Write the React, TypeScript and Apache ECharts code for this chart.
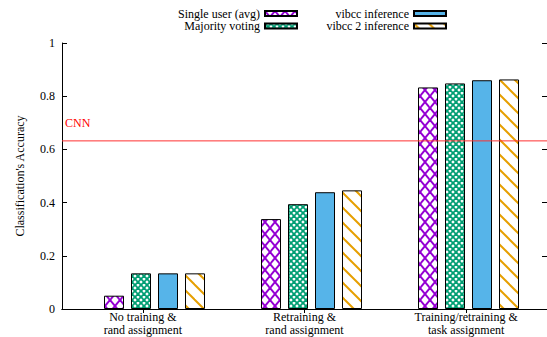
import React, { useEffect, useRef } from 'react';
import * as echarts from 'echarts';

const categories = [
  'No training &\nrand assignment',
  'Retraining &\nrand assignment',
  'Training/retraining &\ntask assignment',
];
const seriesNames = ['Single user (avg)', 'Majority voting', 'vibcc inference', 'vibcc 2 inference'];
const singleUser = [0.05, 0.338, 0.833];
const majorityVoting = [0.134, 0.394, 0.848];
const vibccInference = [0.134, 0.439, 0.86];
const vibcc2Inference = [0.134, 0.446, 0.863];
const cnnAccuracy = 0.632;
const cnnLabel = 'CNN';
const yAxisName = "Classification's Accuracy";

const FONT = 'Liberation Serif, Times New Roman, serif';
const RED = '#ff3030';

function hatch(w: number, h: number, color: string, lw: number, lines: number[][], bg = '#ffffff') {
  const c = document.createElement('canvas');
  c.width = w;
  c.height = h;
  const ctx = c.getContext('2d')!;
  ctx.fillStyle = bg;
  ctx.fillRect(0, 0, w, h);
  ctx.strokeStyle = color;
  ctx.lineWidth = lw;
  lines.forEach(([x1, y1, x2, y2]) => {
    ctx.beginPath();
    ctx.moveTo(x1, y1);
    ctx.lineTo(x2, y2);
    ctx.stroke();
  });
  return { image: c, repeat: 'repeat', imageWidth: w, imageHeight: h } as any;
}

export default function App() {
  const ref = useRef<HTMLDivElement>(null);
  useEffect(() => {
    if (!ref.current) return;
    const chart = echarts.init(ref.current, undefined, { renderer: 'svg' });

    const purple = hatch(10, 12, '#9400d3', 2, [[0, 0, 10, 12], [10, 0, 0, 12]]);
    const teal = hatch(6, 6, '#009e73', 1.8, [[0, 0, 6, 6], [6, 0, 0, 6]]);
    const blue = '#56b4e9';
    const orange = hatch(15, 15, '#e69f00', 2, [[-2, -2, 17, 17], [-2, 13, 2, 17], [13, -2, 17, 2]]);
    const fills = [purple, teal, blue, orange];
    const values = [singleUser, majorityVoting, vibccInference, vibcc2Inference];

    const axisLine = { show: true, lineStyle: { color: '#000', width: 1 } };

    chart.setOption({
      animation: false,
      backgroundColor: '#ffffff',
      textStyle: { fontFamily: FONT, color: '#000' },
      legend: seriesNames.map((name, i) => ({
        data: [name],
        icon: 'rect',
        right: i < 2 ? 249 : 100,
        top: i % 2 === 0 ? 7.5 : 20,
        align: 'right',
        itemWidth: 32,
        itemHeight: 5,
        padding: 0,
        selectedMode: false,
        textStyle: { fontFamily: FONT, fontSize: 12, color: '#000', lineHeight: 11 },
      })),
      grid: [
        { left: 62, top: 43, width: 486, height: 266 },
        { left: 76, top: 43, width: 486, height: 266 },
      ],
      xAxis: [
        {
          type: 'category',
          gridIndex: 0,
          data: categories,
          position: 'bottom',
          axisLine,
          axisTick: { show: false },
          axisLabel: { interval: 0, fontFamily: FONT, fontSize: 12, color: '#000', lineHeight: 13, margin: 1 },
        },
        {
          type: 'category',
          gridIndex: 0,
          data: categories,
          position: 'top',
          axisLine,
          axisTick: { show: true, inside: true, length: 4, alignWithLabel: true, lineStyle: { color: '#000' } },
          axisLabel: { show: false },
        },
        { type: 'category', gridIndex: 1, data: categories, show: false },
        { type: 'value', gridIndex: 0, min: 0, max: 1, show: false },
      ],
      yAxis: [
        {
          type: 'value',
          gridIndex: 0,
          min: 0,
          max: 1,
          interval: 0.2,
          position: 'left',
          axisLine,
          axisTick: { show: true, inside: true, length: 5, lineStyle: { color: '#000' } },
          axisLabel: {
            fontFamily: FONT,
            fontSize: 12,
            color: '#000',
            margin: 7,
            formatter: (v: number) => String(+v.toFixed(1)),
          },
          splitLine: { show: false },
          name: yAxisName,
          nameLocation: 'middle',
          nameGap: 36,
          nameTextStyle: { fontFamily: FONT, fontSize: 12, color: '#000' },
        },
        {
          type: 'value',
          gridIndex: 0,
          min: 0,
          max: 1,
          interval: 0.2,
          position: 'right',
          axisLine,
          axisTick: { show: true, inside: true, length: 5, lineStyle: { color: '#000' } },
          axisLabel: { show: false },
          splitLine: { show: false },
        },
        { type: 'value', gridIndex: 1, min: 0, max: 1, show: false, splitLine: { show: false } },
      ],
      series: [
        ...seriesNames.map((name, i) => ({
          type: 'bar',
          name,
          xAxisIndex: 2,
          yAxisIndex: 2,
          data: values[i],
          barWidth: 20,
          barGap: '35%',
          itemStyle: { color: fills[i], borderColor: '#000', borderWidth: 1 },
        })),
        {
          type: 'line',
          name: cnnLabel,
          xAxisIndex: 3,
          yAxisIndex: 0,
          silent: true,
          symbol: 'circle',
          symbolSize: 0,
          showSymbol: true,
          z: 5,
          lineStyle: { color: RED, width: 1, type: 'solid' },
          itemStyle: { color: RED },
          emphasis: { disabled: true },
          data: [
            {
              value: [0, cnnAccuracy],
              label: {
                show: true,
                formatter: cnnLabel,
                position: [3, -24],
                color: '#ff0000',
                fontFamily: FONT,
                fontSize: 12,
              },
            },
            { value: [1, cnnAccuracy] },
          ],
        },
      ],
    });
    return () => chart.dispose();
  }, []);
  return <div ref={ref} style={{ position: 'absolute', left: 0, top: 0, width: 547, height: 337 }} />;
}
